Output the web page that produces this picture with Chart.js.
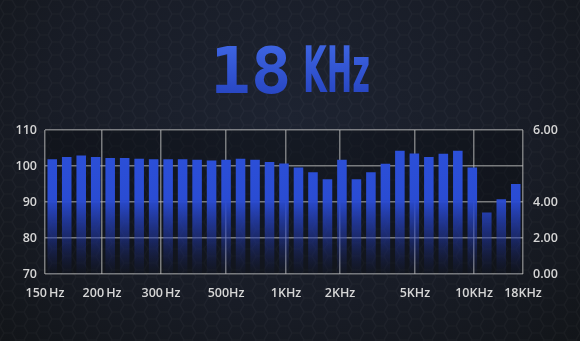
<!DOCTYPE html>
<html>
<head>
<meta charset="utf-8">
<script src="https://cdn.jsdelivr.net/npm/chart.js@4"></script>
<style>
  html, body { margin: 0; padding: 0; }
  body {
    width: 580px; height: 341px; overflow: hidden; position: relative;
    background:
      url("data:image/svg+xml,%3Csvg xmlns='http://www.w3.org/2000/svg' width='24' height='13.86'%3E%3Cpath d='M0 6.93L4 0H12L16 6.93L12 13.86H4ZM16 6.93H24' fill='none' stroke='rgba(255,255,255,0.03)' stroke-width='1.2'/%3E%3C/svg%3E"),
      radial-gradient(ellipse at 50% 35%, #1d2331 0%, #181c26 60%, #121519 100%);
  }
  .num, .unit {
    position: absolute; white-space: nowrap;
    background: linear-gradient(#4068e6, #2441bd);
    -webkit-background-clip: text; background-clip: text; color: transparent;
  }
  .num {
    left: 210px; top: 39px; font: bold 64px/64px "DejaVu Sans Mono", monospace;
    transform: scaleX(1.06); transform-origin: left top;
  }
  .unit {
    left: 303px; top: 38px; font: bold 64px/64px "DejaVu Sans Condensed", sans-serif;
    transform: scaleX(0.53); transform-origin: left top;
  }
  #wrap { position: absolute; left: 0; top: 0; width: 580px; height: 341px; }
</style>
</head>
<body>
<div class="num">18</div>
<div class="unit">KHz</div>
<div id="wrap"><canvas id="chart"></canvas></div>
<script>
// Level of each band, left to right
const levels = [
  101.9, 102.5, 102.9, 102.5, 102.2, 102.2, 102.0, 101.9, 101.9, 101.9, 101.75,
  101.5, 101.75, 102.0, 101.75, 101.1, 100.7, 99.6, 98.25, 96.3, 101.75,
  96.3, 98.25, 100.6, 104.25, 103.5, 102.5, 103.4, 104.25, 99.6, 87.1, 90.75, 95.0
];
const bands = levels.map((_, i) => `B${i + 1}`);

// Frequency gridlines, in band-index units, and their labels
const freqTicks = [-0.5, 3.44, 7.51, 12.0, 16.14, 19.87, 25.04, 29.12, 32.5];
const freqLabels = ["150\u2009Hz", "200\u2009Hz", "300\u2009Hz", "500Hz", "1KHz", "2KHz", "5KHz", "10KHz", "18KHz"];

// Right-hand axis labels placed against left-axis values
const rightTickValues = [70, 80, 90, 110];
const rightTickLabels = ["0.00", "2.00", "4.00", "6.00"];

const gridColor = "rgba(185,185,185,0.62)";
const labelFont = { family: "'Open Sans', sans-serif", size: 12.5, weight: "600" };
const labelColor = "#d6d6d6";

// Darken the plot box a bit
const plotBackground = {
  id: "plotBackground",
  beforeDraw(chart) {
    const { ctx, chartArea: a } = chart;
    ctx.save();
    ctx.fillStyle = "rgba(6,8,12,0.35)";
    ctx.fillRect(a.left, a.top, a.right - a.left, a.bottom - a.top);
    ctx.restore();
  },
};

const barFill = (context) => {
  const { chart } = context;
  const a = chart.chartArea;
  if (!a) return "#2b4fd8";
  const g = chart.ctx.createLinearGradient(0, a.top, 0, a.bottom);
  g.addColorStop(0, "#2c51db");
  g.addColorStop(0.48, "#2a4cd3");
  g.addColorStop(0.75, "rgba(36,60,180,0.5)");
  g.addColorStop(1, "rgba(30,40,110,0.04)");
  return g;
};

new Chart(document.getElementById("chart"), {
  type: "bar",
  data: {
    labels: bands,
    datasets: [
      {
        data: levels,
        backgroundColor: barFill,
        borderWidth: 0,
        barPercentage: 0.66,
        categoryPercentage: 1,
      },
    ],
  },
  options: {
    responsive: true,
    maintainAspectRatio: false,
    animation: false,
    layout: { padding: { top: 130, left: 0, right: 0, bottom: 0 } },
    plugins: { legend: { display: false }, tooltip: { enabled: false } },
    scales: {
      x: { type: "category", display: false, offset: true },
      xg: {
        type: "linear",
        position: "bottom",
        min: -0.5,
        max: 32.5,
        offset: false,
        z: 1,
        afterBuildTicks: (s) => { s.ticks = freqTicks.map((v) => ({ value: v })); },
        afterFit: (s) => { s.height = 67; },
        ticks: {
          autoSkip: false,
          maxRotation: 0,
          padding: 12,
          color: labelColor,
          font: labelFont,
          callback: (v, i) => freqLabels[i],
        },
        grid: { offset: false, color: gridColor, lineWidth: 1.5, drawTicks: false },
        border: { display: false },
      },
      y: {
        position: "left",
        min: 70,
        max: 110,
        z: 1,
        afterFit: (s) => { s.width = 45; },
        ticks: { stepSize: 10, padding: 8, color: labelColor, font: labelFont },
        grid: { color: gridColor, lineWidth: 1.5, drawTicks: false },
        border: { display: false },
      },
      y2: {
        position: "right",
        min: 70,
        max: 110,
        afterBuildTicks: (s) => { s.ticks = rightTickValues.map((v) => ({ value: v })); },
        afterFit: (s) => { s.width = 57; },
        ticks: {
          padding: 10,
          color: labelColor,
          font: labelFont,
          callback: (v, i) => rightTickLabels[i],
        },
        grid: { display: false, drawTicks: false },
        border: { display: false },
      },
    },
  },
  plugins: [plotBackground],
});
</script>
</body>
</html>
